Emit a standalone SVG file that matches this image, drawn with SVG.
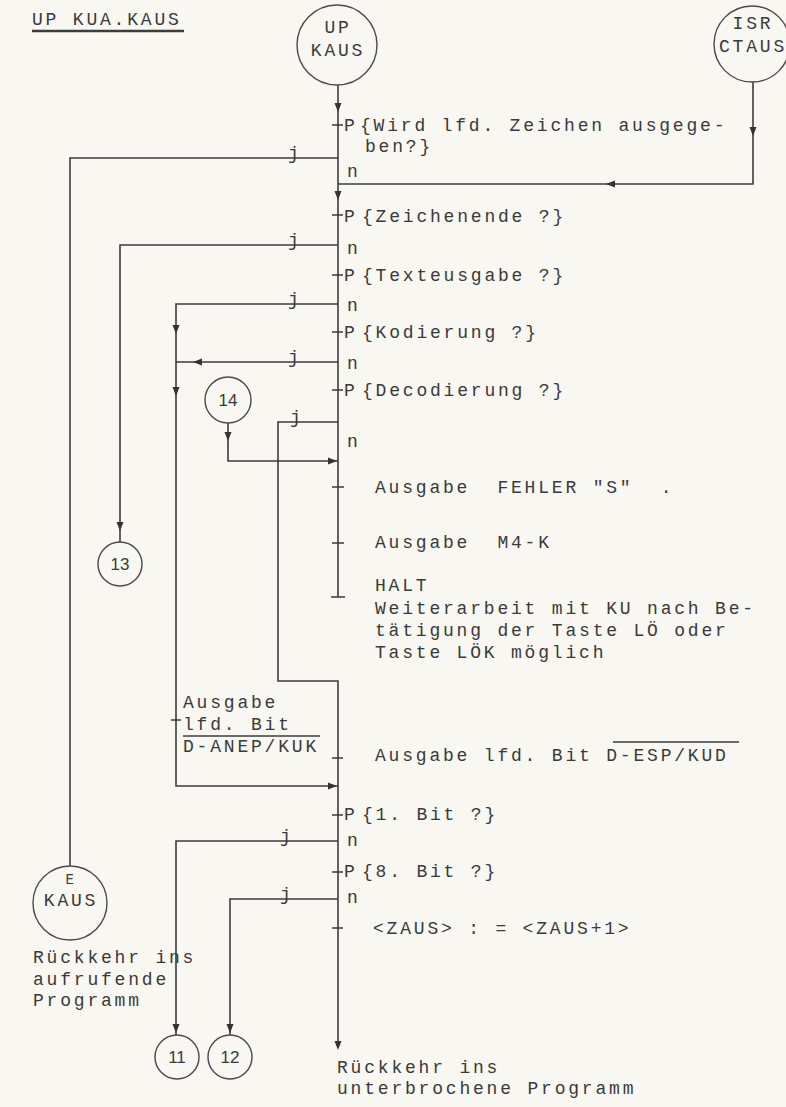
<svg xmlns="http://www.w3.org/2000/svg" width="786" height="1107" viewBox="0 0 786 1107">
<style>
.t{font-family:"Liberation Mono","DejaVu Sans Mono",monospace;font-size:18px;letter-spacing:2.8px;fill:#3a3a3a}
.tc{text-anchor:middle}
.num{font-family:"Liberation Sans",Arial,sans-serif;font-size:17px;fill:#3a3a3a;text-anchor:middle}
.ln{fill:none;stroke:#3c3c3c;stroke-width:1.6}
.nd{fill:none;stroke:#4a4a4a;stroke-width:1.4}
.ar{fill:#333}
</style>
<defs>
<path id="ah" d="M0,0 L-3.5,-9 L3.5,-9 Z"/>
</defs>
<rect width="786" height="1107" fill="#f8f7f2"/>

<g id="title">
<text class="t" x="32" y="25">UP KUA.KAUS</text>
<line x1="32" y1="31" x2="184" y2="31" stroke="#3c3c3c" stroke-width="2.5"/>
</g>

<g id="connectors">
<path class="ln" d="M338,85 V597 M331,597 H345"/>
<path class="ln" d="M753,82 V184 H338"/>
<path class="ln" d="M338,158 H70 V866"/>
<path class="ln" d="M338,245 H120 V542"/>
<path class="ln" d="M338,304 H176 V786 H338"/>
<path class="ln" d="M338,362 H176"/>
<path class="ln" d="M338,422 H278 V681 H338 V1042"/>
<path class="ln" d="M228,423 V461 H338"/>
<path class="ln" d="M338,841 H176 V1035"/>
<path class="ln" d="M338,899 H230 V1035"/>
<path class="ln" d="M332,125 H343 M332,215 H343 M332,275 H343 M332,332 H343 M332,390 H343 M332,487 H344 M332,543 H344 M332,758 H343 M332,815 H343 M332,872 H343 M332,928 H343 M171,720 H181"/>
<g class="ar">
<use href="#ah" transform="translate(338,112)"/>
<use href="#ah" transform="translate(753,136)"/>
<use href="#ah" transform="translate(606,184) rotate(90)"/>
<use href="#ah" transform="translate(338,200)"/>
<use href="#ah" transform="translate(176,334)"/>
<use href="#ah" transform="translate(193,362) rotate(90)"/>
<use href="#ah" transform="translate(176,396)"/>
<use href="#ah" transform="translate(228,441)"/>
<use href="#ah" transform="translate(337,461) rotate(-90)"/>
<use href="#ah" transform="translate(337,786) rotate(-90)"/>
<use href="#ah" transform="translate(338,1050)"/>
<use href="#ah" transform="translate(120,531)"/>
<use href="#ah" transform="translate(176,1033)"/>
<use href="#ah" transform="translate(230,1033)"/>
</g>
</g>

<g id="up-kaus">
<circle class="nd" cx="337" cy="45" r="40"/>
<text class="t tc" x="338" y="33">UP</text>
<text class="t tc" x="338" y="56">KAUS</text>
</g>
<g id="isr-ctaus">
<circle class="nd" cx="752" cy="44" r="38"/>
<text class="t tc" x="753" y="29">ISR</text>
<text class="t tc" x="753" y="52">CTAUS</text>
</g>
<g id="e-kaus">
<circle class="nd" cx="70" cy="903" r="37"/>
<text class="t tc" x="71" y="884" style="font-size:14px">E</text>
<text class="t tc" x="71" y="906">KAUS</text>
<text class="t" x="33" y="963">Rückkehr ins</text>
<text class="t" x="33" y="985">aufrufende</text>
<text class="t" x="33" y="1006">Programm</text>
</g>
<g id="c13"><circle class="nd" cx="120" cy="564" r="22"/><text class="num" x="120" y="570">13</text></g>
<g id="c14"><circle class="nd" cx="228" cy="400" r="23"/><text class="num" x="228" y="406">14</text></g>
<g id="c11"><circle class="nd" cx="177" cy="1057" r="22"/><text class="num" x="177" y="1063">11</text></g>
<g id="c12"><circle class="nd" cx="230" cy="1057" r="22"/><text class="num" x="230" y="1063">12</text></g>

<g id="q-zeichen">
<text class="t" x="344" y="131">P<tspan x="360">{Wird lfd. Zeichen ausgege-</tspan></text>
<text class="t" x="365" y="152">ben?}</text>
<text class="t" x="288" y="159">j</text>
<text class="t" x="347" y="177">n</text>
</g>
<g id="q-zeichenende">
<text class="t" x="344" y="222">P<tspan x="362">{Zeichenende ?}</tspan></text>
<text class="t" x="288" y="246">j</text>
<text class="t" x="347" y="254">n</text>
</g>
<g id="q-textausgabe">
<text class="t" x="344" y="281">P<tspan x="362">{Texteusgabe ?}</tspan></text>
<text class="t" x="288" y="305">j</text>
<text class="t" x="347" y="311">n</text>
</g>
<g id="q-kodierung">
<text class="t" x="344" y="338">P<tspan x="362">{Kodierung ?}</tspan></text>
<text class="t" x="288" y="363">j</text>
<text class="t" x="347" y="369">n</text>
</g>
<g id="q-decodierung">
<text class="t" x="344" y="396">P<tspan x="362">{Decodierung ?}</tspan></text>
<text class="t" x="290" y="423">j</text>
<text class="t" x="347" y="447">n</text>
</g>
<g id="fehler">
<text class="t" x="375" y="493" xml:space="preserve">Ausgabe  FEHLER "S"  .</text>
<text class="t" x="375" y="548" xml:space="preserve">Ausgabe  M4-K</text>
<text class="t" x="375" y="591">HALT</text>
<text class="t" x="375" y="614">Weiterarbeit mit KU nach Be-</text>
<text class="t" x="375" y="636">tätigung der Taste LÖ oder</text>
<text class="t" x="375" y="658">Taste LÖK möglich</text>
</g>
<g id="ausgabe-anep">
<text class="t" x="183" y="708">Ausgabe</text>
<text class="t" x="183" y="730">lfd. Bit</text>
<text class="t" x="183" y="752">D-ANEP/KUK</text>
<line x1="183" y1="736" x2="320" y2="736" stroke="#3c3c3c" stroke-width="1.3"/>
</g>
<g id="ausgabe-esp">
<text class="t" x="375" y="761">Ausgabe lfd. Bit D-ESP/KUD</text>
<line x1="613" y1="742" x2="739" y2="742" stroke="#3c3c3c" stroke-width="1.3"/>
</g>
<g id="q-bit1">
<text class="t" x="344" y="820">P<tspan x="362">{1. Bit ?}</tspan></text>
<text class="t" x="280" y="842">j</text>
<text class="t" x="347" y="846">n</text>
</g>
<g id="q-bit8">
<text class="t" x="344" y="877">P<tspan x="362">{8. Bit ?}</tspan></text>
<text class="t" x="280" y="900">j</text>
<text class="t" x="347" y="903">n</text>
</g>
<g id="zaus">
<text class="t" x="373" y="934">&lt;ZAUS&gt; : = &lt;ZAUS+1&gt;</text>
</g>
<g id="end">
<text class="t" x="337" y="1073">Rückkehr ins</text>
<text class="t" x="337" y="1094">unterbrochene Programm</text>
</g>
</svg>
